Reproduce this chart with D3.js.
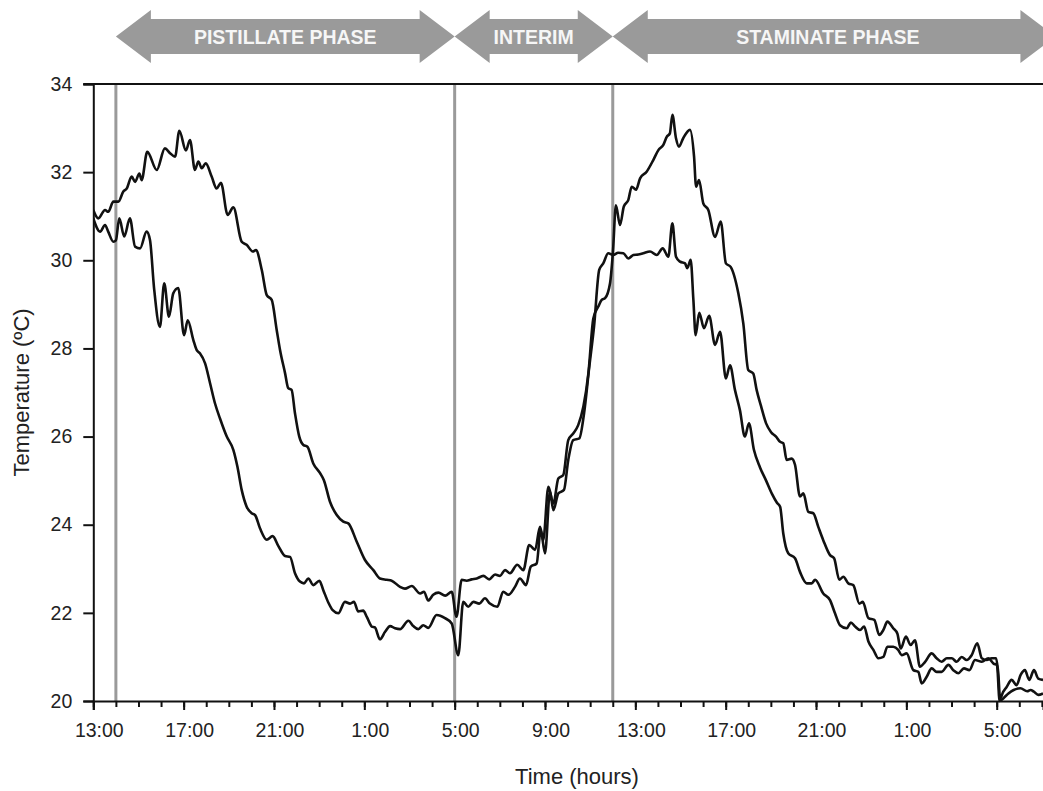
<!DOCTYPE html>
<html>
<head>
<meta charset="utf-8">
<script src="https://cdn.jsdelivr.net/npm/d3@7"></script>
<style>
  html, body { margin: 0; padding: 0; background: #fff; }
  svg { display: block; }
  text { font-family: "Liberation Sans", Arial, sans-serif; }
</style>
</head>
<body>
<svg id="chart" width="1043" height="791"></svg>
<script>
// ---- DATA (time in hours after 13:00 on day 1, temperature in °C) ----
const seriesA = [
  [0.00,31.14],[0.22,30.95],[0.52,31.14],[0.66,31.10],[0.89,31.33],[1.11,31.33],[1.33,31.56],[1.48,31.63],
  [1.70,31.90],[1.85,31.78],[2.04,31.97],[2.14,31.82],[2.39,32.46],[2.81,32.05],[3.17,32.54],[3.40,32.43],
  [3.62,32.35],[3.81,32.94],[4.10,32.49],[4.28,32.73],[4.50,32.05],[4.65,32.24],[4.80,32.09],[4.98,32.20],
  [5.24,31.90],[5.46,31.63],[5.65,31.76],[5.95,31.03],[6.20,31.20],[6.57,30.42],[6.79,30.35],[7.06,30.20],
  [7.20,30.23],[7.46,29.78],[7.68,29.21],[7.90,29.10],[8.12,28.42],[8.27,27.96],[8.49,27.44],[8.63,27.10],
  [8.78,27.06],[8.93,26.53],[9.12,26.00],[9.30,25.81],[9.48,25.77],[9.74,25.39],[10.04,25.17],[10.21,25.01],
  [10.48,24.52],[10.78,24.22],[11.07,24.07],[11.29,24.03],[11.66,23.62],[12.03,23.20],[12.40,22.97],[12.69,22.78],
  [12.99,22.75],[13.21,22.73],[13.58,22.59],[13.80,22.55],[14.10,22.61],[14.47,22.44],[14.64,22.48],[14.83,22.28],
  [15.05,22.41],[15.28,22.46],[15.58,22.39],[15.87,22.48],[16.08,21.91],[16.31,22.75],[16.53,22.73],[16.75,22.76],
  [16.98,22.78],[17.27,22.84],[17.53,22.76],[17.79,22.87],[18.01,22.84],[18.23,22.97],[18.45,22.90],[18.77,23.09],
  [19.04,22.97],[19.30,23.54],[19.56,23.43],[19.78,23.95],[19.92,23.65],[20.15,24.86],[20.37,24.48],[20.59,25.05],
  [20.81,25.13],[21.03,25.92],[21.25,26.07],[21.47,26.26],[21.70,26.68],[21.92,27.43],[22.14,28.68],[22.36,28.95],
  [22.51,29.10],[22.66,29.14],[22.88,29.48],[23.01,30.20],[23.14,31.25],[23.32,30.80],[23.49,31.22],[23.69,31.37],
  [23.84,31.67],[24.03,31.60],[24.21,31.86],[24.50,32.01],[24.80,32.28],[25.02,32.50],[25.24,32.62],[25.39,32.80],
  [25.53,32.88],[25.64,33.30],[25.80,32.77],[25.93,32.58],[26.12,32.77],[26.42,32.96],[26.60,32.35],[26.69,31.67],
  [26.82,31.82],[27.01,31.29],[27.23,31.14],[27.53,30.53],[27.78,30.88],[28.01,29.93],[28.22,29.85],[28.56,29.25],
  [28.78,28.57],[29.00,27.51],[29.22,27.43],[29.37,27.06],[29.56,26.70],[29.79,26.30],[30.01,26.10],[30.23,26.00],
  [30.41,25.88],[30.55,25.85],[30.70,25.47],[30.92,25.50],[31.07,25.36],[31.29,24.64],[31.44,24.71],[31.66,24.29],
  [31.88,24.26],[32.10,23.95],[32.32,23.65],[32.62,23.31],[32.80,23.24],[33.03,22.75],[33.21,22.82],[33.43,22.67],
  [33.65,22.63],[33.92,22.21],[34.07,22.25],[34.32,21.88],[34.58,21.84],[34.80,21.50],[34.98,21.61],[35.16,21.80],
  [35.42,21.65],[35.60,21.53],[35.75,21.19],[35.98,21.46],[36.19,21.27],[36.38,21.38],[36.60,20.78],[36.83,20.89],
  [37.12,21.08],[37.34,20.97],[37.56,20.89],[37.79,20.97],[38.01,20.97],[38.23,20.89],[38.45,21.00],[38.67,20.93],
  [38.89,21.04],[39.14,21.31],[39.34,20.97],[39.56,20.93],[39.78,20.97],[39.97,20.97],[40.07,20.63],[40.15,20.05],
  [40.28,20.20],[40.44,20.32],[40.66,20.48],[40.88,20.36],[41.06,20.59],[41.25,20.70],[41.44,20.48],[41.65,20.70],
  [41.84,20.51],[42.05,20.48]
];
const seriesB = [
  [0.00,30.95],[0.30,30.65],[0.52,30.80],[0.66,30.65],[0.89,30.42],[1.00,30.45],[1.15,30.95],[1.37,30.54],
  [1.62,30.95],[1.85,30.31],[2.07,30.27],[2.36,30.65],[2.51,30.46],[2.69,29.37],[2.95,28.49],[3.14,29.48],
  [3.35,28.72],[3.54,29.25],[3.76,29.37],[4.02,28.30],[4.18,28.64],[4.43,28.19],[4.58,27.96],[4.72,27.89],
  [4.95,27.66],[5.17,27.21],[5.39,26.75],[5.61,26.41],[5.91,26.00],[6.20,25.70],[6.38,25.32],[6.57,24.79],
  [6.79,24.41],[7.01,24.26],[7.16,24.22],[7.38,23.92],[7.68,23.66],[7.94,23.74],[8.19,23.52],[8.49,23.29],
  [8.71,23.27],[8.93,22.90],[9.15,22.71],[9.33,22.67],[9.52,22.78],[9.74,22.63],[10.01,22.73],[10.18,22.52],
  [10.41,22.23],[10.60,22.06],[10.85,21.99],[11.14,22.25],[11.37,22.21],[11.54,22.25],[11.73,22.03],[11.95,22.05],
  [12.11,21.91],[12.33,21.69],[12.47,21.67],[12.69,21.40],[12.92,21.57],[13.14,21.70],[13.36,21.65],[13.58,21.63],
  [13.95,21.82],[14.17,21.70],[14.39,21.63],[14.61,21.72],[14.83,21.66],[15.20,21.95],[15.57,21.88],[15.87,21.76],
  [16.16,21.04],[16.38,22.25],[16.60,22.14],[16.83,22.25],[17.09,22.21],[17.34,22.33],[17.56,22.21],[17.89,22.14],
  [18.15,22.48],[18.38,22.41],[18.67,22.59],[18.89,22.78],[19.16,22.63],[19.37,23.05],[19.63,23.12],[19.81,23.88],
  [20.00,23.35],[20.22,24.75],[20.37,24.33],[20.59,24.71],[20.84,24.79],[21.03,25.47],[21.25,25.92],[21.52,25.96],
  [21.73,26.53],[21.96,27.58],[22.17,28.49],[22.40,29.78],[22.58,29.93],[22.80,30.16],[23.02,30.12],[23.24,30.17],
  [23.47,30.16],[23.69,30.04],[23.91,30.12],[24.13,30.13],[24.35,30.16],[24.65,30.20],[24.95,30.12],[25.21,30.27],
  [25.46,30.08],[25.64,30.84],[25.80,30.08],[25.98,29.97],[26.20,29.93],[26.30,29.82],[26.45,30.01],[26.57,29.10],
  [26.67,28.30],[26.83,28.81],[27.04,28.46],[27.27,28.74],[27.53,28.08],[27.75,28.38],[28.01,27.32],[28.19,27.62],
  [28.41,27.06],[28.63,26.60],[28.85,26.00],[29.03,26.30],[29.25,25.70],[29.52,25.30],[29.79,25.00],[30.05,24.70],
  [30.27,24.50],[30.41,24.41],[30.55,23.80],[30.77,23.35],[31.07,23.24],[31.29,22.93],[31.59,22.67],[31.81,22.67],
  [31.96,22.75],[32.32,22.44],[32.62,22.29],[32.84,21.99],[33.06,21.72],[33.36,21.65],[33.54,21.78],[33.73,21.69],
  [33.95,21.61],[34.13,21.69],[34.32,21.35],[34.54,21.16],[34.76,20.97],[34.98,21.00],[35.16,21.23],[35.42,21.23],
  [35.64,21.16],[35.79,21.04],[36.01,21.08],[36.31,20.70],[36.53,20.66],[36.68,20.40],[36.90,20.55],[37.12,20.74],
  [37.34,20.66],[37.56,20.66],[37.86,20.82],[38.08,20.70],[38.30,20.63],[38.55,20.74],[38.79,20.70],[39.04,20.93],
  [39.34,20.89],[39.63,20.97],[39.86,20.85],[40.01,20.82],[40.13,20.00],[40.31,20.07],[40.52,20.17],[40.75,20.25],
  [41.05,20.29],[41.35,20.22],[41.50,20.25],[41.65,20.21],[41.84,20.14],[42.05,20.17]
];
const xTickHours = [0, 4, 8, 12, 16, 20, 24, 28, 32, 36, 40];
const xTickLabels = ["13:00","17:00","21:00","1:00","5:00","9:00","13:00","17:00","21:00","1:00","5:00"];
const yTicks = [20, 22, 24, 26, 28, 30, 32, 34];
const phaseNames = ["PISTILLATE PHASE", "INTERIM", "STAMINATE PHASE"];
const phaseStarts = [1, 16, 23];
const phaseEnds = [16, 23, 42.6];
const markerHours = [1, 16, 23];

(function draw() {
  const W = 1043;
  const pLeft = 93.3, pRight = 1043, pTop = 84, pBottom = 701;
  const svg = d3.select("#chart");

  const x = d3.scaleLinear().domain([0, 42.05]).range([pLeft, pRight]);
  const y = d3.scaleLinear().domain([20, 34]).range([pBottom, pTop]);

  svg.append("defs").append("clipPath").attr("id", "plotclip")
    .append("rect").attr("x", pLeft).attr("y", pTop - 2)
    .attr("width", pRight - pLeft + 5).attr("height", pBottom - pTop + 4);

  // phase arrows
  const arrowG = svg.append("g");
  const headLen = 35, headHalf = 26.5, shaftHalf = 17.5, arrowCY = 36.5;
  phaseNames.forEach((name, i) => {
    const x0 = x(phaseStarts[i]), x1 = x(phaseEnds[i]);
    const pts = [
      [x0, arrowCY],
      [x0 + headLen, arrowCY - headHalf],
      [x0 + headLen, arrowCY - shaftHalf],
      [x1 - headLen, arrowCY - shaftHalf],
      [x1 - headLen, arrowCY - headHalf],
      [x1, arrowCY],
      [x1 - headLen, arrowCY + headHalf],
      [x1 - headLen, arrowCY + shaftHalf],
      [x0 + headLen, arrowCY + shaftHalf],
      [x0 + headLen, arrowCY + headHalf]
    ];
    arrowG.append("path")
      .attr("d", d3.line()(pts) + "Z")
      .attr("fill", "#9a9a9a");
    const cx = (x0 + Math.min(x1, W)) / 2;
    arrowG.append("text")
      .attr("x", cx).attr("y", arrowCY + 7)
      .attr("text-anchor", "middle")
      .attr("fill", "#f6f6f6")
      .attr("font-weight", "bold")
      .attr("font-size", "19.5px")
      .text(name);
  });

  // grey phase boundary lines
  svg.append("g").selectAll("line").data(markerHours).join("line")
    .attr("x1", d => x(d)).attr("x2", d => x(d))
    .attr("y1", pTop).attr("y2", pBottom)
    .attr("stroke", "#9a9a9a").attr("stroke-width", 3);

  // data lines
  const line = d3.line().curve(d3.curveMonotoneX).x(d => x(d[0])).y(d => y(d[1]));
  const dataG = svg.append("g").attr("clip-path", "url(#plotclip)");
  [seriesA, seriesB].forEach(s => {
    dataG.append("path").datum(s)
      .attr("d", line)
      .attr("fill", "none")
      .attr("stroke", "#111")
      .attr("stroke-width", 2.6)
      .attr("stroke-linejoin", "round");
  });

  // axes
  const yAxis = d3.axisLeft(y).tickValues(yTicks).tickSize(10).tickPadding(11).tickFormat(d3.format("d"));
  const yg = svg.append("g").attr("transform", `translate(${pLeft},0)`).call(yAxis);
  yg.select(".domain").attr("stroke", "#111").attr("stroke-width", 2);
  yg.selectAll(".tick line").attr("stroke", "#111").attr("stroke-width", 2);
  yg.selectAll(".tick text").attr("font-size", "19.5px").attr("fill", "#222")
    .attr("font-family", "'Liberation Sans', Arial, sans-serif");

  const minorHours = d3.range(0, 43, 1);
  const xMinor = d3.axisBottom(x).tickValues(minorHours).tickSize(6).tickFormat("");
  const xmg = svg.append("g").attr("transform", `translate(0,${pBottom})`).call(xMinor);
  xmg.select(".domain").remove();
  xmg.selectAll(".tick line").attr("stroke", "#111").attr("stroke-width", 2);

  const xAxis = d3.axisBottom(x).tickValues(xTickHours).tickSize(9).tickPadding(13)
    .tickFormat((d, i) => xTickLabels[i]);
  const xg = svg.append("g").attr("transform", `translate(0,${pBottom})`).call(xAxis);
  xg.select(".domain").attr("stroke", "#111").attr("stroke-width", 2);
  xg.selectAll(".tick line").attr("stroke", "#111").attr("stroke-width", 2);
  xg.selectAll(".tick text").attr("font-size", "19.5px").attr("fill", "#222").attr("dx", 5.5)
    .attr("font-family", "'Liberation Sans', Arial, sans-serif");

  // top border
  svg.append("line")
    .attr("x1", pLeft - 10).attr("x2", pRight).attr("y1", pTop).attr("y2", pTop)
    .attr("stroke", "#111").attr("stroke-width", 2);

  // axis titles
  svg.append("text")
    .attr("transform", `translate(29,${(pTop + pBottom) / 2}) rotate(-90)`)
    .attr("text-anchor", "middle")
    .attr("font-size", "22px").attr("fill", "#222")
    .text("Temperature (ºC)");

  svg.append("text")
    .attr("x", 577).attr("y", 784)
    .attr("text-anchor", "middle")
    .attr("font-size", "22px").attr("fill", "#222")
    .text("Time (hours)");
})();
</script>
</body>
</html>
